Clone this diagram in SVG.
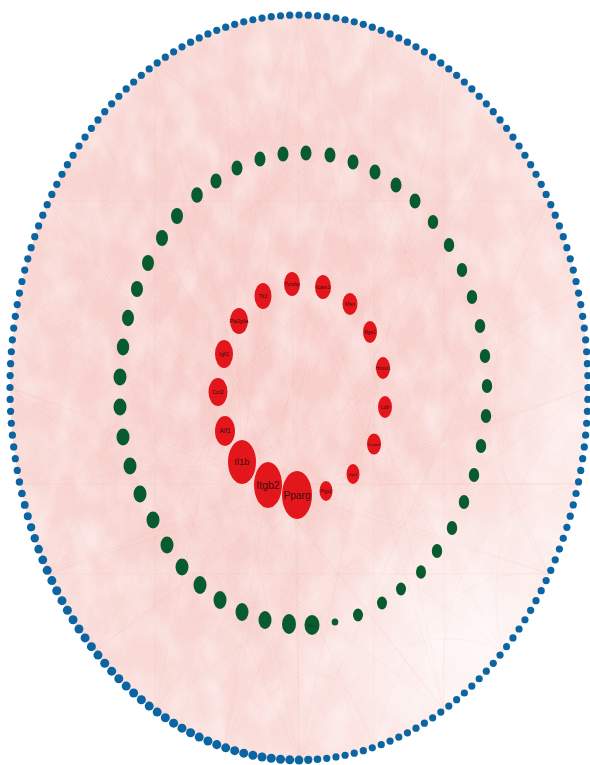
<svg xmlns="http://www.w3.org/2000/svg" width="590" height="765" viewBox="0 0 590 765">
<defs>
<style>
.e{stroke:#ec8a86;stroke-width:.6;stroke-opacity:.12;fill:none}
.g ellipse{fill:#075b2f}
.r ellipse{fill:#e3161c}
.r text{font-family:"Liberation Sans",Arial,sans-serif;fill:#3d0b0b;text-anchor:middle}
.gl{font-family:"Liberation Sans",Arial,sans-serif;fill:#1d2e20;text-anchor:middle;font-size:4px}
</style>
<radialGradient id="bg" cx="0.43" cy="0.45" r="0.6">
<stop offset="0" stop-color="#f7c9c5"/>
<stop offset="0.55" stop-color="#f8d0cc"/>
<stop offset="1" stop-color="#fbe0dd"/>
</radialGradient>
<radialGradient id="wh" cx="0.5" cy="0.5" r="0.5">
<stop offset="0" stop-color="#fff" stop-opacity="0.75"/>
<stop offset="1" stop-color="#fff" stop-opacity="0"/>
</radialGradient>
<clipPath id="cl"><ellipse cx="299" cy="387.5" rx="289" ry="372.5"/></clipPath>
<filter id="tx" x="0" y="0" width="1" height="1">
<feTurbulence type="fractalNoise" baseFrequency="0.04 0.025" numOctaves="3" seed="7"/>
<feColorMatrix values="0 0 0 0 1  0 0 0 0 1  0 0 0 0 1  1.6 0 0 0 -0.55"/>
</filter>
<filter id="gr" x="0" y="0" width="1" height="1">
<feTurbulence type="fractalNoise" baseFrequency="0.7" numOctaves="1" seed="2"/>
<feColorMatrix values="0 0 0 0 1  0 0 0 0 1  0 0 0 0 1  1.2 0 0 0 -0.4"/>
</filter>
</defs>
<rect width="590" height="765" fill="#fff"/>
<g id="edge-mass" clip-path="url(#cl)">
<rect width="590" height="765" fill="url(#bg)"/>
<rect width="590" height="765" filter="url(#tx)" opacity="0.5"/>
<ellipse cx="470" cy="640" rx="210" ry="190" fill="url(#wh)"/>
<ellipse cx="560" cy="440" rx="70" ry="160" fill="url(#wh)" opacity="0.6"/>
<rect width="590" height="765" filter="url(#gr)" opacity="0.35"/>
</g>
<g id="edges" class="e">
<line x1="297" y1="495" x2="299" y2="15"/><line x1="297" y1="495" x2="503" y2="124"/><line x1="297" y1="495" x2="588" y2="388"/><line x1="297" y1="495" x2="503" y2="651"/><line x1="297" y1="495" x2="299" y2="760"/><line x1="297" y1="495" x2="95" y2="651"/><line x1="297" y1="495" x2="10" y2="388"/><line x1="297" y1="495" x2="95" y2="124"/><line x1="297" y1="495" x2="444" y2="65"/><line x1="297" y1="495" x2="549" y2="574"/><line x1="297" y1="495" x2="155" y2="710"/><line x1="297" y1="495" x2="49" y2="201"/>
<line x1="268" y1="485" x2="374" y2="28"/><line x1="268" y1="485" x2="549" y2="201"/><line x1="268" y1="485" x2="578" y2="484"/><line x1="268" y1="485" x2="444" y2="710"/><line x1="268" y1="485" x2="224" y2="747"/><line x1="268" y1="485" x2="49" y2="574"/><line x1="268" y1="485" x2="20" y2="291"/><line x1="268" y1="485" x2="155" y2="65"/>
<line x1="242" y1="462" x2="299" y2="15"/><line x1="242" y1="462" x2="578" y2="291"/><line x1="242" y1="462" x2="374" y2="747"/><line x1="242" y1="462" x2="20" y2="484"/><line x1="242" y1="462" x2="224" y2="28"/><line x1="242" y1="462" x2="503" y2="124"/>
<line x1="292" y1="284" x2="299" y2="760"/><line x1="292" y1="284" x2="503" y2="651"/><line x1="292" y1="284" x2="95" y2="651"/>
<line x1="323" y1="287" x2="224" y2="747"/><line x1="323" y1="287" x2="49" y2="574"/><line x1="323" y1="287" x2="444" y2="710"/>
<line x1="299" y1="15" x2="444" y2="710"/><line x1="444" y1="65" x2="299" y2="760"/><line x1="549" y1="201" x2="155" y2="710"/><line x1="588" y1="388" x2="49" y2="574"/><line x1="549" y1="574" x2="10" y2="388"/><line x1="444" y1="710" x2="49" y2="201"/>
<line x1="299" y1="760" x2="155" y2="65"/><line x1="155" y1="710" x2="299" y2="15"/><line x1="374" y1="28" x2="374" y2="747"/><line x1="503" y1="124" x2="224" y2="747"/><line x1="578" y1="291" x2="95" y2="651"/><line x1="578" y1="484" x2="20" y2="484"/>
<line x1="299" y1="15" x2="549" y2="574"/><line x1="549" y1="201" x2="299" y2="760"/><line x1="549" y1="574" x2="49" y2="574"/><line x1="299" y1="760" x2="49" y2="201"/><line x1="49" y1="574" x2="299" y2="15"/><line x1="49" y1="201" x2="549" y2="201"/>
<line x1="444" y1="65" x2="444" y2="710"/><line x1="588" y1="388" x2="155" y2="710"/><line x1="444" y1="710" x2="10" y2="388"/><line x1="155" y1="710" x2="155" y2="65"/><line x1="10" y1="388" x2="444" y2="65"/><line x1="155" y1="65" x2="588" y2="388"/>
<path d="M549,574 Q420,560 374,747"/><path d="M578,484 Q430,520 444,710"/><path d="M503,651 Q380,600 299,760"/><path d="M588,388 Q470,520 503,651"/><path d="M549,201 Q440,400 549,574"/><path d="M374,747 Q330,600 224,747"/>
</g>
<g id="outer-ring" fill="#0b65a3" transform="translate(299 387.5) scale(1 1.289)">
<g id="b0" transform="rotate(0)translate(0,-289)rotate(0)scale(1,.776)"><circle r="3.6"/></g>
<g id="b1" transform="rotate(1.84)translate(0,-289)rotate(-1.84)scale(1,.776)"><circle r="3.6"/></g>
<g id="b2" transform="rotate(3.67)translate(0,-289)rotate(-3.67)scale(1,.776)"><circle r="3.6"/></g>
<g id="b3" transform="rotate(5.51)translate(0,-289)rotate(-5.51)scale(1,.776)"><circle r="3.6"/></g>
<g id="b4" transform="rotate(7.35)translate(0,-289)rotate(-7.35)scale(1,.776)"><circle r="3.6"/></g>
<g id="b5" transform="rotate(9.18)translate(0,-289)rotate(-9.18)scale(1,.776)"><circle r="3.6"/></g>
<g id="b6" transform="rotate(11.02)translate(0,-289)rotate(-11.02)scale(1,.776)"><circle r="3.6"/></g>
<g id="b7" transform="rotate(12.86)translate(0,-289)rotate(-12.86)scale(1,.776)"><circle r="3.6"/></g>
<g id="b8" transform="rotate(14.69)translate(0,-289)rotate(-14.69)scale(1,.776)"><circle r="3.6"/></g>
<g id="b9" transform="rotate(16.53)translate(0,-289)rotate(-16.53)scale(1,.776)"><circle r="3.6"/></g>
<g id="b10" transform="rotate(18.37)translate(0,-289)rotate(-18.37)scale(1,.776)"><circle r="3.6"/></g>
<g id="b11" transform="rotate(20.2)translate(0,-289)rotate(-20.2)scale(1,.776)"><circle r="3.6"/></g>
<g id="b12" transform="rotate(22.04)translate(0,-289)rotate(-22.04)scale(1,.776)"><circle r="3.6"/></g>
<g id="b13" transform="rotate(23.88)translate(0,-289)rotate(-23.88)scale(1,.776)"><circle r="3.6"/></g>
<g id="b14" transform="rotate(25.71)translate(0,-289)rotate(-25.71)scale(1,.776)"><circle r="3.6"/></g>
<g id="b15" transform="rotate(27.55)translate(0,-289)rotate(-27.55)scale(1,.776)"><circle r="3.6"/></g>
<g id="b16" transform="rotate(29.39)translate(0,-289)rotate(-29.39)scale(1,.776)"><circle r="3.6"/></g>
<g id="b17" transform="rotate(31.22)translate(0,-289)rotate(-31.22)scale(1,.776)"><circle r="3.6"/></g>
<g id="b18" transform="rotate(33.06)translate(0,-289)rotate(-33.06)scale(1,.776)"><circle r="3.6"/></g>
<g id="b19" transform="rotate(34.9)translate(0,-289)rotate(-34.9)scale(1,.776)"><circle r="3.6"/></g>
<g id="b20" transform="rotate(36.73)translate(0,-289)rotate(-36.73)scale(1,.776)"><circle r="3.6"/></g>
<g id="b21" transform="rotate(38.57)translate(0,-289)rotate(-38.57)scale(1,.776)"><circle r="3.6"/></g>
<g id="b22" transform="rotate(40.41)translate(0,-289)rotate(-40.41)scale(1,.776)"><circle r="3.6"/></g>
<g id="b23" transform="rotate(42.24)translate(0,-289)rotate(-42.24)scale(1,.776)"><circle r="3.6"/></g>
<g id="b24" transform="rotate(44.08)translate(0,-289)rotate(-44.08)scale(1,.776)"><circle r="3.6"/></g>
<g id="b25" transform="rotate(45.92)translate(0,-289)rotate(-45.92)scale(1,.776)"><circle r="3.6"/></g>
<g id="b26" transform="rotate(47.76)translate(0,-289)rotate(-47.76)scale(1,.776)"><circle r="3.6"/></g>
<g id="b27" transform="rotate(49.59)translate(0,-289)rotate(-49.59)scale(1,.776)"><circle r="3.6"/></g>
<g id="b28" transform="rotate(51.43)translate(0,-289)rotate(-51.43)scale(1,.776)"><circle r="3.6"/></g>
<g id="b29" transform="rotate(53.27)translate(0,-289)rotate(-53.27)scale(1,.776)"><circle r="3.6"/></g>
<g id="b30" transform="rotate(55.1)translate(0,-289)rotate(-55.1)scale(1,.776)"><circle r="3.6"/></g>
<g id="b31" transform="rotate(56.94)translate(0,-289)rotate(-56.94)scale(1,.776)"><circle r="3.6"/></g>
<g id="b32" transform="rotate(58.78)translate(0,-289)rotate(-58.78)scale(1,.776)"><circle r="3.6"/></g>
<g id="b33" transform="rotate(60.61)translate(0,-289)rotate(-60.61)scale(1,.776)"><circle r="3.6"/></g>
<g id="b34" transform="rotate(62.45)translate(0,-289)rotate(-62.45)scale(1,.776)"><circle r="3.6"/></g>
<g id="b35" transform="rotate(64.29)translate(0,-289)rotate(-64.29)scale(1,.776)"><circle r="3.6"/></g>
<g id="b36" transform="rotate(66.12)translate(0,-289)rotate(-66.12)scale(1,.776)"><circle r="3.6"/></g>
<g id="b37" transform="rotate(67.96)translate(0,-289)rotate(-67.96)scale(1,.776)"><circle r="3.6"/></g>
<g id="b38" transform="rotate(69.8)translate(0,-289)rotate(-69.8)scale(1,.776)"><circle r="3.6"/></g>
<g id="b39" transform="rotate(71.63)translate(0,-289)rotate(-71.63)scale(1,.776)"><circle r="3.6"/></g>
<g id="b40" transform="rotate(73.47)translate(0,-289)rotate(-73.47)scale(1,.776)"><circle r="3.6"/></g>
<g id="b41" transform="rotate(75.31)translate(0,-289)rotate(-75.31)scale(1,.776)"><circle r="3.6"/></g>
<g id="b42" transform="rotate(77.14)translate(0,-289)rotate(-77.14)scale(1,.776)"><circle r="3.6"/></g>
<g id="b43" transform="rotate(78.98)translate(0,-289)rotate(-78.98)scale(1,.776)"><circle r="3.6"/></g>
<g id="b44" transform="rotate(80.82)translate(0,-289)rotate(-80.82)scale(1,.776)"><circle r="3.6"/></g>
<g id="b45" transform="rotate(82.65)translate(0,-289)rotate(-82.65)scale(1,.776)"><circle r="3.6"/></g>
<g id="b46" transform="rotate(84.49)translate(0,-289)rotate(-84.49)scale(1,.776)"><circle r="3.6"/></g>
<g id="b47" transform="rotate(86.33)translate(0,-289)rotate(-86.33)scale(1,.776)"><circle r="3.6"/></g>
<g id="b48" transform="rotate(88.16)translate(0,-289)rotate(-88.16)scale(1,.776)"><circle r="3.6"/></g>
<g id="b49" transform="rotate(90)translate(0,-289)rotate(-90)scale(1,.776)"><circle r="3.6"/></g>
<g id="b50" transform="rotate(91.84)translate(0,-289)rotate(-91.84)scale(1,.776)"><circle r="3.6"/></g>
<g id="b51" transform="rotate(93.67)translate(0,-289)rotate(-93.67)scale(1,.776)"><circle r="3.6"/></g>
<g id="b52" transform="rotate(95.51)translate(0,-289)rotate(-95.51)scale(1,.776)"><circle r="3.6"/></g>
<g id="b53" transform="rotate(97.35)translate(0,-289)rotate(-97.35)scale(1,.776)"><circle r="3.6"/></g>
<g id="b54" transform="rotate(99.18)translate(0,-289)rotate(-99.18)scale(1,.776)"><circle r="3.6"/></g>
<g id="b55" transform="rotate(101.02)translate(0,-289)rotate(-101.02)scale(1,.776)"><circle r="3.6"/></g>
<g id="b56" transform="rotate(102.86)translate(0,-289)rotate(-102.86)scale(1,.776)"><circle r="3.6"/></g>
<g id="b57" transform="rotate(104.69)translate(0,-289)rotate(-104.69)scale(1,.776)"><circle r="3.6"/></g>
<g id="b58" transform="rotate(106.53)translate(0,-289)rotate(-106.53)scale(1,.776)"><circle r="3.6"/></g>
<g id="b59" transform="rotate(108.37)translate(0,-289)rotate(-108.37)scale(1,.776)"><circle r="3.6"/></g>
<g id="b60" transform="rotate(110.2)translate(0,-289)rotate(-110.2)scale(1,.776)"><circle r="3.6"/></g>
<g id="b61" transform="rotate(112.04)translate(0,-289)rotate(-112.04)scale(1,.776)"><circle r="3.6"/></g>
<g id="b62" transform="rotate(113.88)translate(0,-289)rotate(-113.88)scale(1,.776)"><circle r="3.6"/></g>
<g id="b63" transform="rotate(115.71)translate(0,-289)rotate(-115.71)scale(1,.776)"><circle r="3.6"/></g>
<g id="b64" transform="rotate(117.55)translate(0,-289)rotate(-117.55)scale(1,.776)"><circle r="3.6"/></g>
<g id="b65" transform="rotate(119.39)translate(0,-289)rotate(-119.39)scale(1,.776)"><circle r="3.6"/></g>
<g id="b66" transform="rotate(121.22)translate(0,-289)rotate(-121.22)scale(1,.776)"><circle r="3.6"/></g>
<g id="b67" transform="rotate(123.06)translate(0,-289)rotate(-123.06)scale(1,.776)"><circle r="3.6"/></g>
<g id="b68" transform="rotate(124.9)translate(0,-289)rotate(-124.9)scale(1,.776)"><circle r="3.6"/></g>
<g id="b69" transform="rotate(126.73)translate(0,-289)rotate(-126.73)scale(1,.776)"><circle r="3.6"/></g>
<g id="b70" transform="rotate(128.57)translate(0,-289)rotate(-128.57)scale(1,.776)"><circle r="3.6"/></g>
<g id="b71" transform="rotate(130.41)translate(0,-289)rotate(-130.41)scale(1,.776)"><circle r="3.6"/></g>
<g id="b72" transform="rotate(132.24)translate(0,-289)rotate(-132.24)scale(1,.776)"><circle r="3.6"/></g>
<g id="b73" transform="rotate(134.08)translate(0,-289)rotate(-134.08)scale(1,.776)"><circle r="3.6"/></g>
<g id="b74" transform="rotate(135.92)translate(0,-289)rotate(-135.92)scale(1,.776)"><circle r="3.6"/></g>
<g id="b75" transform="rotate(137.76)translate(0,-289)rotate(-137.76)scale(1,.776)"><circle r="3.6"/></g>
<g id="b76" transform="rotate(139.59)translate(0,-289)rotate(-139.59)scale(1,.776)"><circle r="3.6"/></g>
<g id="b77" transform="rotate(141.43)translate(0,-289)rotate(-141.43)scale(1,.776)"><circle r="3.6"/></g>
<g id="b78" transform="rotate(143.27)translate(0,-289)rotate(-143.27)scale(1,.776)"><circle r="3.6"/></g>
<g id="b79" transform="rotate(145.1)translate(0,-289)rotate(-145.1)scale(1,.776)"><circle r="3.6"/></g>
<g id="b80" transform="rotate(146.94)translate(0,-289)rotate(-146.94)scale(1,.776)"><circle r="3.6"/></g>
<g id="b81" transform="rotate(148.78)translate(0,-289)rotate(-148.78)scale(1,.776)"><circle r="3.6"/></g>
<g id="b82" transform="rotate(150.61)translate(0,-289)rotate(-150.61)scale(1,.776)"><circle r="3.6"/></g>
<g id="b83" transform="rotate(152.45)translate(0,-289)rotate(-152.45)scale(1,.776)"><circle r="3.6"/></g>
<g id="b84" transform="rotate(154.29)translate(0,-289)rotate(-154.29)scale(1,.776)"><circle r="3.6"/></g>
<g id="b85" transform="rotate(156.12)translate(0,-289)rotate(-156.12)scale(1,.776)"><circle r="3.6"/></g>
<g id="b86" transform="rotate(157.96)translate(0,-289)rotate(-157.96)scale(1,.776)"><circle r="3.6"/></g>
<g id="b87" transform="rotate(159.8)translate(0,-289)rotate(-159.8)scale(1,.776)"><circle r="3.6"/></g>
<g id="b88" transform="rotate(161.63)translate(0,-289)rotate(-161.63)scale(1,.776)"><circle r="3.6"/></g>
<g id="b89" transform="rotate(163.47)translate(0,-289)rotate(-163.47)scale(1,.776)"><circle r="3.6"/></g>
<g id="b90" transform="rotate(165.31)translate(0,-289)rotate(-165.31)scale(1,.776)"><circle r="3.6"/></g>
<g id="b91" transform="rotate(167.14)translate(0,-289)rotate(-167.14)scale(1,.776)"><circle r="3.6"/></g>
<g id="b92" transform="rotate(168.98)translate(0,-289)rotate(-168.98)scale(1,.776)"><circle r="3.6"/></g>
<g id="b93" transform="rotate(170.82)translate(0,-289)rotate(-170.82)scale(1,.776)"><circle r="3.6"/></g>
<g id="b94" transform="rotate(172.65)translate(0,-289)rotate(-172.65)scale(1,.776)"><circle r="3.6"/></g>
<g id="b95" transform="rotate(174.49)translate(0,-289)rotate(-174.49)scale(1,.776)"><circle r="3.6"/></g>
<g id="b96" transform="rotate(176.33)translate(0,-289)rotate(-176.33)scale(1,.776)"><circle r="3.8"/></g>
<g id="b97" transform="rotate(178.16)translate(0,-289)rotate(-178.16)scale(1,.776)"><circle r="4.1"/></g>
<g id="b98" transform="rotate(180)translate(0,-289)rotate(-180)scale(1,.776)"><circle r="4.4"/></g>
<g id="b99" transform="rotate(181.84)translate(0,-289)rotate(-181.84)scale(1,.776)"><circle r="4.5"/></g>
<g id="b100" transform="rotate(183.67)translate(0,-289)rotate(-183.67)scale(1,.776)"><circle r="4.5"/></g>
<g id="b101" transform="rotate(185.51)translate(0,-289)rotate(-185.51)scale(1,.776)"><circle r="4.5"/></g>
<g id="b102" transform="rotate(187.35)translate(0,-289)rotate(-187.35)scale(1,.776)"><circle r="4.5"/></g>
<g id="b103" transform="rotate(189.18)translate(0,-289)rotate(-189.18)scale(1,.776)"><circle r="4.5"/></g>
<g id="b104" transform="rotate(191.02)translate(0,-289)rotate(-191.02)scale(1,.776)"><circle r="4.5"/></g>
<g id="b105" transform="rotate(192.86)translate(0,-289)rotate(-192.86)scale(1,.776)"><circle r="4.5"/></g>
<g id="b106" transform="rotate(194.69)translate(0,-289)rotate(-194.69)scale(1,.776)"><circle r="4.5"/></g>
<g id="b107" transform="rotate(196.53)translate(0,-289)rotate(-196.53)scale(1,.776)"><circle r="4.5"/></g>
<g id="b108" transform="rotate(198.37)translate(0,-289)rotate(-198.37)scale(1,.776)"><circle r="4.5"/></g>
<g id="b109" transform="rotate(200.2)translate(0,-289)rotate(-200.2)scale(1,.776)"><circle r="4.5"/></g>
<g id="b110" transform="rotate(202.04)translate(0,-289)rotate(-202.04)scale(1,.776)"><circle r="4.5"/></g>
<g id="b111" transform="rotate(203.88)translate(0,-289)rotate(-203.88)scale(1,.776)"><circle r="4.5"/></g>
<g id="b112" transform="rotate(205.71)translate(0,-289)rotate(-205.71)scale(1,.776)"><circle r="4.5"/></g>
<g id="b113" transform="rotate(207.55)translate(0,-289)rotate(-207.55)scale(1,.776)"><circle r="4.5"/></g>
<g id="b114" transform="rotate(209.39)translate(0,-289)rotate(-209.39)scale(1,.776)"><circle r="4.5"/></g>
<g id="b115" transform="rotate(211.22)translate(0,-289)rotate(-211.22)scale(1,.776)"><circle r="4.5"/></g>
<g id="b116" transform="rotate(213.06)translate(0,-289)rotate(-213.06)scale(1,.776)"><circle r="4.5"/></g>
<g id="b117" transform="rotate(214.9)translate(0,-289)rotate(-214.9)scale(1,.776)"><circle r="4.5"/></g>
<g id="b118" transform="rotate(216.73)translate(0,-289)rotate(-216.73)scale(1,.776)"><circle r="4.5"/></g>
<g id="b119" transform="rotate(218.57)translate(0,-289)rotate(-218.57)scale(1,.776)"><circle r="4.5"/></g>
<g id="b120" transform="rotate(220.41)translate(0,-289)rotate(-220.41)scale(1,.776)"><circle r="4.5"/></g>
<g id="b121" transform="rotate(222.24)translate(0,-289)rotate(-222.24)scale(1,.776)"><circle r="4.5"/></g>
<g id="b122" transform="rotate(224.08)translate(0,-289)rotate(-224.08)scale(1,.776)"><circle r="4.5"/></g>
<g id="b123" transform="rotate(225.92)translate(0,-289)rotate(-225.92)scale(1,.776)"><circle r="4.5"/></g>
<g id="b124" transform="rotate(227.76)translate(0,-289)rotate(-227.76)scale(1,.776)"><circle r="4.5"/></g>
<g id="b125" transform="rotate(229.59)translate(0,-289)rotate(-229.59)scale(1,.776)"><circle r="4.5"/></g>
<g id="b126" transform="rotate(231.43)translate(0,-289)rotate(-231.43)scale(1,.776)"><circle r="4.5"/></g>
<g id="b127" transform="rotate(233.27)translate(0,-289)rotate(-233.27)scale(1,.776)"><circle r="4.5"/></g>
<g id="b128" transform="rotate(235.1)translate(0,-289)rotate(-235.1)scale(1,.776)"><circle r="4.5"/></g>
<g id="b129" transform="rotate(236.94)translate(0,-289)rotate(-236.94)scale(1,.776)"><circle r="4.5"/></g>
<g id="b130" transform="rotate(238.78)translate(0,-289)rotate(-238.78)scale(1,.776)"><circle r="4.5"/></g>
<g id="b131" transform="rotate(240.61)translate(0,-289)rotate(-240.61)scale(1,.776)"><circle r="4.5"/></g>
<g id="b132" transform="rotate(242.45)translate(0,-289)rotate(-242.45)scale(1,.776)"><circle r="4.4"/></g>
<g id="b133" transform="rotate(244.29)translate(0,-289)rotate(-244.29)scale(1,.776)"><circle r="4.3"/></g>
<g id="b134" transform="rotate(246.12)translate(0,-289)rotate(-246.12)scale(1,.776)"><circle r="4.2"/></g>
<g id="b135" transform="rotate(247.96)translate(0,-289)rotate(-247.96)scale(1,.776)"><circle r="4.1"/></g>
<g id="b136" transform="rotate(249.8)translate(0,-289)rotate(-249.8)scale(1,.776)"><circle r="4"/></g>
<g id="b137" transform="rotate(251.63)translate(0,-289)rotate(-251.63)scale(1,.776)"><circle r="3.9"/></g>
<g id="b138" transform="rotate(253.47)translate(0,-289)rotate(-253.47)scale(1,.776)"><circle r="3.8"/></g>
<g id="b139" transform="rotate(255.31)translate(0,-289)rotate(-255.31)scale(1,.776)"><circle r="3.7"/></g>
<g id="b140" transform="rotate(257.14)translate(0,-289)rotate(-257.14)scale(1,.776)"><circle r="3.6"/></g>
<g id="b141" transform="rotate(258.98)translate(0,-289)rotate(-258.98)scale(1,.776)"><circle r="3.6"/></g>
<g id="b142" transform="rotate(260.82)translate(0,-289)rotate(-260.82)scale(1,.776)"><circle r="3.6"/></g>
<g id="b143" transform="rotate(262.65)translate(0,-289)rotate(-262.65)scale(1,.776)"><circle r="3.6"/></g>
<g id="b144" transform="rotate(264.49)translate(0,-289)rotate(-264.49)scale(1,.776)"><circle r="3.6"/></g>
<g id="b145" transform="rotate(266.33)translate(0,-289)rotate(-266.33)scale(1,.776)"><circle r="3.6"/></g>
<g id="b146" transform="rotate(268.16)translate(0,-289)rotate(-268.16)scale(1,.776)"><circle r="3.6"/></g>
<g id="b147" transform="rotate(270)translate(0,-289)rotate(-270)scale(1,.776)"><circle r="3.6"/></g>
<g id="b148" transform="rotate(271.84)translate(0,-289)rotate(-271.84)scale(1,.776)"><circle r="3.6"/></g>
<g id="b149" transform="rotate(273.67)translate(0,-289)rotate(-273.67)scale(1,.776)"><circle r="3.6"/></g>
<g id="b150" transform="rotate(275.51)translate(0,-289)rotate(-275.51)scale(1,.776)"><circle r="3.6"/></g>
<g id="b151" transform="rotate(277.35)translate(0,-289)rotate(-277.35)scale(1,.776)"><circle r="3.6"/></g>
<g id="b152" transform="rotate(279.18)translate(0,-289)rotate(-279.18)scale(1,.776)"><circle r="3.6"/></g>
<g id="b153" transform="rotate(281.02)translate(0,-289)rotate(-281.02)scale(1,.776)"><circle r="3.6"/></g>
<g id="b154" transform="rotate(282.86)translate(0,-289)rotate(-282.86)scale(1,.776)"><circle r="3.6"/></g>
<g id="b155" transform="rotate(284.69)translate(0,-289)rotate(-284.69)scale(1,.776)"><circle r="3.6"/></g>
<g id="b156" transform="rotate(286.53)translate(0,-289)rotate(-286.53)scale(1,.776)"><circle r="3.6"/></g>
<g id="b157" transform="rotate(288.37)translate(0,-289)rotate(-288.37)scale(1,.776)"><circle r="3.6"/></g>
<g id="b158" transform="rotate(290.2)translate(0,-289)rotate(-290.2)scale(1,.776)"><circle r="3.6"/></g>
<g id="b159" transform="rotate(292.04)translate(0,-289)rotate(-292.04)scale(1,.776)"><circle r="3.6"/></g>
<g id="b160" transform="rotate(293.88)translate(0,-289)rotate(-293.88)scale(1,.776)"><circle r="3.6"/></g>
<g id="b161" transform="rotate(295.71)translate(0,-289)rotate(-295.71)scale(1,.776)"><circle r="3.6"/></g>
<g id="b162" transform="rotate(297.55)translate(0,-289)rotate(-297.55)scale(1,.776)"><circle r="3.6"/></g>
<g id="b163" transform="rotate(299.39)translate(0,-289)rotate(-299.39)scale(1,.776)"><circle r="3.6"/></g>
<g id="b164" transform="rotate(301.22)translate(0,-289)rotate(-301.22)scale(1,.776)"><circle r="3.6"/></g>
<g id="b165" transform="rotate(303.06)translate(0,-289)rotate(-303.06)scale(1,.776)"><circle r="3.6"/></g>
<g id="b166" transform="rotate(304.9)translate(0,-289)rotate(-304.9)scale(1,.776)"><circle r="3.6"/></g>
<g id="b167" transform="rotate(306.73)translate(0,-289)rotate(-306.73)scale(1,.776)"><circle r="3.6"/></g>
<g id="b168" transform="rotate(308.57)translate(0,-289)rotate(-308.57)scale(1,.776)"><circle r="3.6"/></g>
<g id="b169" transform="rotate(310.41)translate(0,-289)rotate(-310.41)scale(1,.776)"><circle r="3.6"/></g>
<g id="b170" transform="rotate(312.24)translate(0,-289)rotate(-312.24)scale(1,.776)"><circle r="3.6"/></g>
<g id="b171" transform="rotate(314.08)translate(0,-289)rotate(-314.08)scale(1,.776)"><circle r="3.6"/></g>
<g id="b172" transform="rotate(315.92)translate(0,-289)rotate(-315.92)scale(1,.776)"><circle r="3.6"/></g>
<g id="b173" transform="rotate(317.76)translate(0,-289)rotate(-317.76)scale(1,.776)"><circle r="3.6"/></g>
<g id="b174" transform="rotate(319.59)translate(0,-289)rotate(-319.59)scale(1,.776)"><circle r="3.6"/></g>
<g id="b175" transform="rotate(321.43)translate(0,-289)rotate(-321.43)scale(1,.776)"><circle r="3.6"/></g>
<g id="b176" transform="rotate(323.27)translate(0,-289)rotate(-323.27)scale(1,.776)"><circle r="3.6"/></g>
<g id="b177" transform="rotate(325.1)translate(0,-289)rotate(-325.1)scale(1,.776)"><circle r="3.6"/></g>
<g id="b178" transform="rotate(326.94)translate(0,-289)rotate(-326.94)scale(1,.776)"><circle r="3.6"/></g>
<g id="b179" transform="rotate(328.78)translate(0,-289)rotate(-328.78)scale(1,.776)"><circle r="3.6"/></g>
<g id="b180" transform="rotate(330.61)translate(0,-289)rotate(-330.61)scale(1,.776)"><circle r="3.6"/></g>
<g id="b181" transform="rotate(332.45)translate(0,-289)rotate(-332.45)scale(1,.776)"><circle r="3.6"/></g>
<g id="b182" transform="rotate(334.29)translate(0,-289)rotate(-334.29)scale(1,.776)"><circle r="3.6"/></g>
<g id="b183" transform="rotate(336.12)translate(0,-289)rotate(-336.12)scale(1,.776)"><circle r="3.6"/></g>
<g id="b184" transform="rotate(337.96)translate(0,-289)rotate(-337.96)scale(1,.776)"><circle r="3.6"/></g>
<g id="b185" transform="rotate(339.8)translate(0,-289)rotate(-339.8)scale(1,.776)"><circle r="3.6"/></g>
<g id="b186" transform="rotate(341.63)translate(0,-289)rotate(-341.63)scale(1,.776)"><circle r="3.6"/></g>
<g id="b187" transform="rotate(343.47)translate(0,-289)rotate(-343.47)scale(1,.776)"><circle r="3.6"/></g>
<g id="b188" transform="rotate(345.31)translate(0,-289)rotate(-345.31)scale(1,.776)"><circle r="3.6"/></g>
<g id="b189" transform="rotate(347.14)translate(0,-289)rotate(-347.14)scale(1,.776)"><circle r="3.6"/></g>
<g id="b190" transform="rotate(348.98)translate(0,-289)rotate(-348.98)scale(1,.776)"><circle r="3.6"/></g>
<g id="b191" transform="rotate(350.82)translate(0,-289)rotate(-350.82)scale(1,.776)"><circle r="3.6"/></g>
<g id="b192" transform="rotate(352.65)translate(0,-289)rotate(-352.65)scale(1,.776)"><circle r="3.6"/></g>
<g id="b193" transform="rotate(354.49)translate(0,-289)rotate(-354.49)scale(1,.776)"><circle r="3.6"/></g>
<g id="b194" transform="rotate(356.33)translate(0,-289)rotate(-356.33)scale(1,.776)"><circle r="3.6"/></g>
<g id="b195" transform="rotate(358.16)translate(0,-289)rotate(-358.16)scale(1,.776)"><circle r="3.6"/></g>
</g>
<g id="middle-ring" class="g">
<g id="g1"><ellipse cx="283" cy="154" rx="5.5" ry="7.5"/></g>
<g id="g2"><ellipse cx="306" cy="153" rx="5.5" ry="7.5"/></g>
<g id="g3"><ellipse cx="330" cy="155" rx="5.5" ry="7.5"/></g>
<g id="g4"><ellipse cx="353" cy="162" rx="5.5" ry="7.5"/></g>
<g id="g5"><ellipse cx="375" cy="172" rx="5.5" ry="7.5"/></g>
<g id="g6"><ellipse cx="396" cy="185" rx="5.5" ry="7.5"/></g>
<g id="g7"><ellipse cx="415" cy="201" rx="5.5" ry="7.5"/></g>
<g id="g8"><ellipse cx="433" cy="222" rx="5.2" ry="7"/></g>
<g id="g9"><ellipse cx="449" cy="245" rx="5.2" ry="7"/></g>
<g id="g10"><ellipse cx="462" cy="270" rx="5.2" ry="7"/></g>
<g id="g11"><ellipse cx="472" cy="297" rx="5.2" ry="7"/></g>
<g id="g12"><ellipse cx="480" cy="326" rx="5.2" ry="7"/></g>
<g id="g13"><ellipse cx="485" cy="356" rx="5.2" ry="7"/></g>
<g id="g14"><ellipse cx="487" cy="386" rx="5.2" ry="7"/></g>
<g id="g15"><ellipse cx="486" cy="416" rx="5.2" ry="7"/></g>
<g id="g16"><ellipse cx="481" cy="446" rx="5.2" ry="7"/></g>
<g id="g17"><ellipse cx="474" cy="475" rx="5.2" ry="7"/></g>
<g id="g18"><ellipse cx="464" cy="502" rx="5.2" ry="7"/></g>
<g id="g19"><ellipse cx="452" cy="528" rx="5.2" ry="7"/></g>
<g id="g20"><ellipse cx="437" cy="551" rx="5.2" ry="7"/></g>
<g id="g21"><ellipse cx="421" cy="572" rx="5" ry="6.7"/></g>
<g id="g22"><ellipse cx="401" cy="589" rx="5" ry="6.5"/></g>
<g id="g23"><ellipse cx="382" cy="603" rx="5" ry="6.5"/></g>
<g id="g24"><ellipse cx="358" cy="615" rx="5" ry="6.5"/></g>
<g id="g25"><ellipse cx="335" cy="622" rx="3.3" ry="3.6"/></g>
<g id="g26"><ellipse cx="312" cy="625" rx="7.5" ry="10"/><text class="gl" x="312" y="626.5">Fas</text></g>
<g id="g27"><ellipse cx="289" cy="624" rx="7" ry="10"/></g>
<g id="g28"><ellipse cx="265" cy="620" rx="6.5" ry="9"/></g>
<g id="g29"><ellipse cx="242" cy="612" rx="6.5" ry="9"/></g>
<g id="g30"><ellipse cx="220" cy="600" rx="6.5" ry="9"/></g>
<g id="g31"><ellipse cx="200" cy="585" rx="6.5" ry="9"/></g>
<g id="g32"><ellipse cx="182" cy="567" rx="6.5" ry="8.5"/></g>
<g id="g33"><ellipse cx="167" cy="545" rx="6.5" ry="8.5"/></g>
<g id="g34"><ellipse cx="153" cy="520" rx="6.5" ry="8.5"/></g>
<g id="g35"><ellipse cx="140" cy="494" rx="6.5" ry="8.5"/></g>
<g id="g36"><ellipse cx="130" cy="466" rx="6.5" ry="8.5"/></g>
<g id="g37"><ellipse cx="123" cy="437" rx="6.5" ry="8.5"/></g>
<g id="g38"><ellipse cx="120" cy="407" rx="6.5" ry="8.5"/></g>
<g id="g39"><ellipse cx="120" cy="377" rx="6.5" ry="8.5"/></g>
<g id="g40"><ellipse cx="123" cy="347" rx="6.2" ry="8.5"/></g>
<g id="g41"><ellipse cx="128" cy="318" rx="6" ry="8.2"/></g>
<g id="g42"><ellipse cx="137" cy="289" rx="6" ry="8"/></g>
<g id="g43"><ellipse cx="148" cy="263" rx="6" ry="8"/></g>
<g id="g44"><ellipse cx="162" cy="238" rx="6" ry="8"/></g>
<g id="g45"><ellipse cx="177" cy="216" rx="6" ry="8"/></g>
<g id="g46"><ellipse cx="197" cy="195" rx="5.8" ry="7.8"/></g>
<g id="g47"><ellipse cx="216" cy="181" rx="5.6" ry="7.6"/></g>
<g id="g48"><ellipse cx="237" cy="168" rx="5.5" ry="7.5"/></g>
<g id="g49"><ellipse cx="260" cy="159" rx="5.5" ry="7.5"/></g>
</g>
<g id="inner-ring" class="r">
<g id="Tyrobp"><ellipse cx="292" cy="284" rx="8" ry="12"/><text x="292" y="285.8" font-size="5">Tyrobp</text></g>
<g id="Icam1"><ellipse cx="323" cy="287" rx="8" ry="12"/><text x="323" y="288.8" font-size="5.3">Icam1</text></g>
<g id="Msn"><ellipse cx="350" cy="304" rx="7.5" ry="11"/><text x="350" y="305.8" font-size="5.2">Msn</text></g>
<g id="Rgs1"><ellipse cx="370" cy="332" rx="7" ry="11"/><text x="370" y="333.7" font-size="4.8">Rgs1</text></g>
<g id="Hmox1"><ellipse cx="383" cy="368" rx="7" ry="11"/><text x="383" y="369.7" font-size="4.8">Hmox1</text></g>
<g id="Ldlr"><ellipse cx="385" cy="407" rx="7" ry="11"/><text x="385" y="408.7" font-size="5">Ldlr</text></g>
<g id="Vcam1"><ellipse cx="374" cy="444" rx="7" ry="10.5"/><text x="374" y="445.5" font-size="4.3">Vcam1</text></g>
<g id="Gja1"><ellipse cx="353" cy="474" rx="6.5" ry="10"/><text x="353" y="475.5" font-size="4.2">Gja1</text></g>
<g id="Ptgs2"><ellipse cx="326" cy="491" rx="6.5" ry="10"/><text x="326" y="492.5" font-size="4.5">Ptgs2</text></g>
<g id="Il1b"><ellipse cx="242" cy="462" rx="14" ry="22"/><text x="242" y="465.3" font-size="9.5">Il1b</text></g>
<g id="Itgb2"><ellipse cx="268" cy="485" rx="14" ry="23"/><text x="268" y="488.6" font-size="10.5">Itgb2</text></g>
<g id="Pparg"><ellipse cx="297" cy="495" rx="15" ry="24"/><text x="297" y="498.6" font-size="10.2">Pparg</text></g>
<g id="Aif1"><ellipse cx="225" cy="431" rx="10" ry="15"/><text x="225" y="433.2" font-size="6.3">Aif1</text></g>
<g id="Ccl2"><ellipse cx="218" cy="392" rx="9.5" ry="14"/><text x="218" y="394" font-size="5.8">Ccl2</text></g>
<g id="Igf1"><ellipse cx="224" cy="354" rx="9" ry="14"/><text x="224" y="356.1" font-size="6">Igf1</text></g>
<g id="Pla2g4a"><ellipse cx="239" cy="321" rx="9" ry="13"/><text x="239" y="322.8" font-size="5.2">Pla2g4a</text></g>
<g id="Tlr2"><ellipse cx="263" cy="296" rx="8.5" ry="13"/><text x="263" y="297.9" font-size="5.3">Tlr2</text></g>
</g>
</svg>
